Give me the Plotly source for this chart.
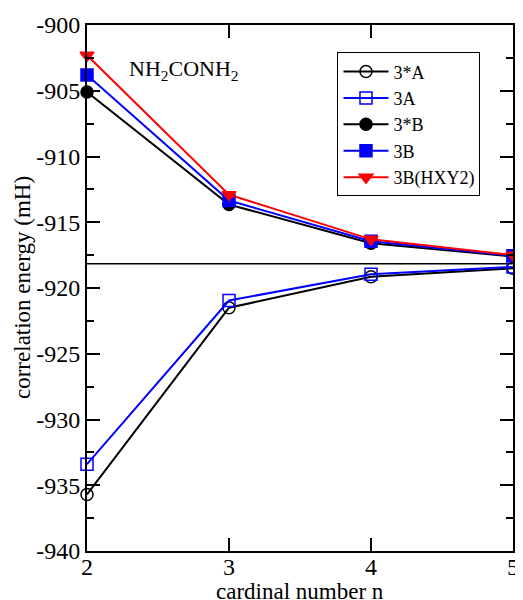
import plotly.graph_objects as go

n_values = [2, 3, 4, 5]
e_3starA = [-935.7, -921.5, -919.15, -918.5]
e_3A = [-933.4, -920.95, -918.95, -918.4]
e_3starB = [-905.1, -913.65, -916.6, -917.6]
e_3B = [-903.8, -913.35, -916.45, -917.55]
e_3B_HXY2 = [-902.3, -912.9, -916.3, -917.5]
cbs_limit = -918.15
x_ticks = [2, 3, 4, 5]
y_ticks = [-940, -935, -930, -925, -920, -915, -910, -905, -900]

FONT = "Liberation Serif, Times New Roman, serif"

fig = go.Figure()
fig.add_shape(type="line", xref="paper", x0=0, x1=1, yref="y", y0=cbs_limit, y1=cbs_limit,
              line=dict(color="black", width=1.5), layer="below")

series = [
    ("3*A", e_3starA, "black", "circle-open"),
    ("3A", e_3A, "blue", "square-open"),
    ("3*B", e_3starB, "black", "circle"),
    ("3B", e_3B, "blue", "square"),
    ("3B(HXY2)", e_3B_HXY2, "red", "triangle-down"),
]
for name, vals, col, sym in series:
    fig.add_trace(go.Scatter(
        x=n_values, y=vals, name=name, mode="lines+markers",
        line=dict(color=col, width=2),
        marker=dict(symbol=sym, size=12, color=col, line=dict(color=col, width=1.5)),
        cliponaxis=False,
    ))

fig.add_annotation(x=0.093, y=0.915, xref="paper", yref="paper", xanchor="left", yanchor="middle",
                   text="NH<sub>2</sub>CONH<sub>2</sub>", showarrow=False,
                   font=dict(family=FONT, size=22, color="black"))
# axis titles
fig.add_annotation(x=0.5, y=0, xref="paper", yref="paper", xanchor="center", yanchor="middle",
                   yshift=-40, text="cardinal number n", showarrow=False,
                   font=dict(family=FONT, size=23, color="black"))
fig.add_annotation(x=0, y=0.5, xref="paper", yref="paper", xanchor="center", yanchor="middle",
                   xshift=-65, text="correlation energy (mH)", textangle=-90, showarrow=False,
                   font=dict(family=FONT, size=23, color="black"))

fig.update_xaxes(range=[2, 5], tickvals=x_ticks, ticktext=[str(v) for v in x_ticks],
                 ticks="inside", ticklen=13, tickwidth=1.5, tickcolor="black",
                 showline=True, linewidth=2, linecolor="black", mirror="ticks",
                 showgrid=False, zeroline=False, ticklabeloverflow="allow",
                 ticklabelstandoff=-7,
                 tickfont=dict(family=FONT, size=24, color="black"))
fig.update_yaxes(range=[-940, -900], tickvals=y_ticks, ticktext=[str(v) for v in y_ticks],
                 ticks="inside", ticklen=13, tickwidth=1.5, tickcolor="black",
                 minor=dict(dtick=2.5, tick0=-940, ticks="inside", ticklen=7, tickwidth=1.5, tickcolor="black", showgrid=False),
                 showline=True, linewidth=2, linecolor="black", mirror="ticks",
                 showgrid=False, zeroline=False, ticklabeloverflow="allow",
                 tickfont=dict(family=FONT, size=24, color="black"))

# the page body has an 8px margin, so the figure is sized/offset to compensate
fig.update_layout(
    width=515, height=592,
    font=dict(family=FONT, color="black"),
    margin=dict(l=79, r=4, t=10, b=49),
    paper_bgcolor="white", plot_bgcolor="white",
    showlegend=True,
    legend=dict(x=0.588, y=0.948, xanchor="left", yanchor="top",
                bgcolor="white", bordercolor="black", borderwidth=1,
                font=dict(family=FONT, size=18, color="black"),
                tracegroupgap=0, itemwidth=45),
)

fig.write_html("out.html")
